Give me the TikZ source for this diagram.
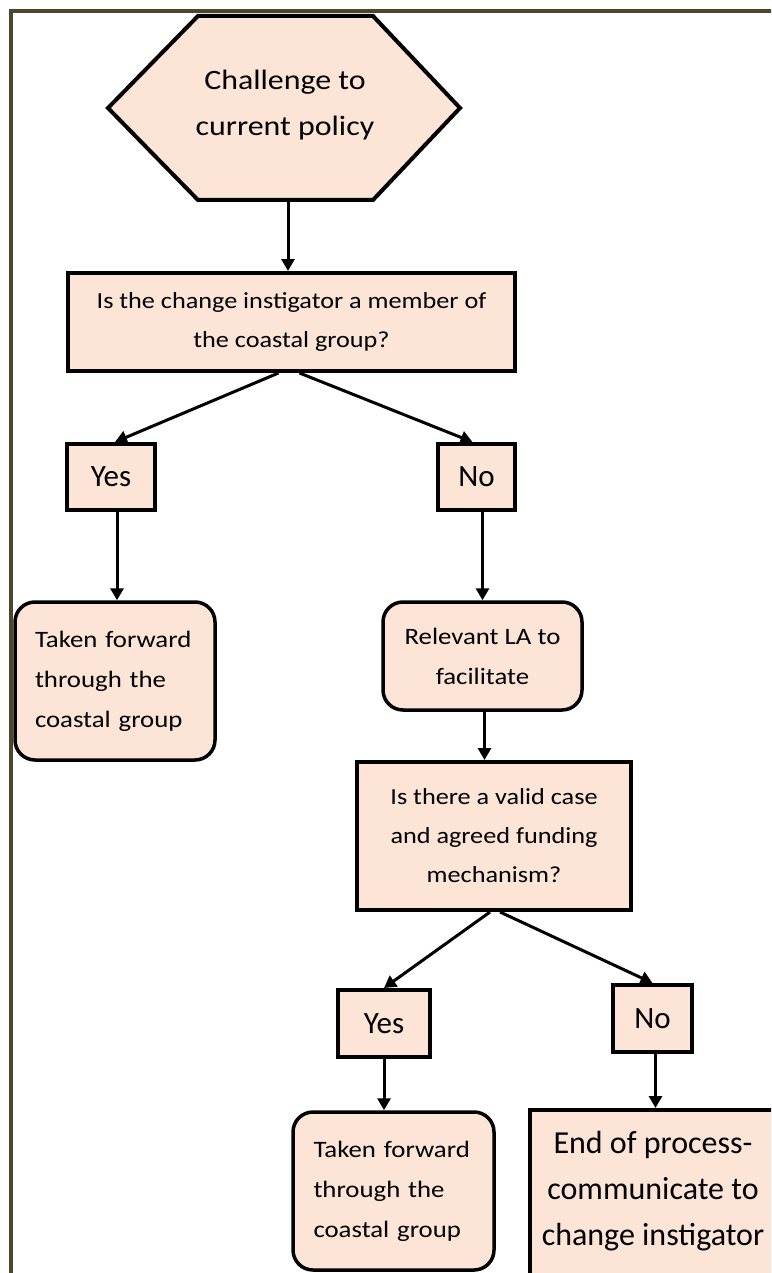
\documentclass[tikz,border=0pt]{standalone}
\usepackage{fontspec}
\setmainfont{Carlito}
\newfontfamily\widefont[FakeStretch=1.14]{Carlito}
\usetikzlibrary{arrows.meta}

\definecolor{peach}{HTML}{FCE4D6}
\definecolor{frameolive}{HTML}{4A4630}

\tikzset{
	box/.style={draw, line width=4pt, fill=peach, align=center, inner sep=0pt},
	question/.style={box, font=\widefont\fontsize{23}{39}\selectfont},
	answer/.style={box, font=\fontsize{31}{34}\selectfont},
	action/.style={box, rounded corners=20pt, line width=3.5pt, font=\widefont\fontsize{23.5}{40}\selectfont},
	flow/.style={line width=3pt, -{Triangle[length=12pt, width=13pt]}},
}

\begin{document}
\begin{tikzpicture}[x=1pt, y=-1pt]
	\clip (0,0) rectangle (771,1273);
	\fill[white] (0,0) rectangle (771,1273);
	% outer frame, cut at right and bottom
	\draw[frameolive, line width=4pt] (11,1280) -- (11,11) -- (780,11);

	% start: hexagon
	\draw[line width=4pt, fill=peach, line join=miter] (198,16) -- (373,16) -- (460,108) -- (373,200) -- (198,200) -- (108,108) -- cycle;
	\node[font=\widefont\fontsize{28}{46}\selectfont, align=center] (start) at (285,105) {Challenge to\\current policy};
	\coordinate (startbot) at (288,202);

	% first question
	\node[question, minimum width=447, minimum height=98] (q1) at (291.5,322) {Is the change instigator a member of\\the coastal group?};
	\node[answer, minimum width=88, minimum height=66] (yes1) at (111,477) {Yes};
	\node[answer, minimum width=77, minimum height=66] (no1) at (476.5,477) {No};
	\node[action, minimum width=200, minimum height=158, text width=160, align=left] (take1) at (115,681) {Taken forward\\through the\\coastal group};
	\node[action, minimum width=199, minimum height=108] (la) at (482.5,656) {Relevant LA to\\facilitate};

	% second question
	\node[question, minimum width=274, minimum height=148] (q2) at (494,836) {Is there a valid case\\and agreed funding\\mechanism?};
	\node[answer, minimum width=92, minimum height=67] (yes2) at (384,1023.5) {Yes};
	\node[answer, minimum width=79, minimum height=67] (no2) at (652.5,1018.5) {No};
	\node[action, minimum width=201, minimum height=158, text width=160, align=left] (take2) at (393.5,1191) {Taken forward\\through the\\coastal group};
	\node[box, minimum width=250, minimum height=190] (stop) at (655,1205) {};
	\node[font=\fontsize{32}{46}\selectfont, align=center] (stoptext) at (653,1191) {End of process-\\communicate to\\change instigator};

	% connectors
	\draw[flow] (startbot) -- (startbot |- q1.north);
	\draw[flow] ([xshift=-13pt]q1.south) -- ([xshift=4pt]yes1.north);
	\draw[flow] ([xshift=8pt]q1.south) -- ([xshift=-4pt]no1.north);
	\draw[flow] ([xshift=6pt]yes1.south) -- ([xshift=6pt]yes1.south |- take1.north);
	\draw[flow] ([xshift=6pt]no1.south) -- ([xshift=6pt]no1.south |- la.north);
	\draw[flow] ([xshift=2pt]la.south) -- ([xshift=2pt]la.south |- q2.north);
	\draw[flow] ([xshift=-4pt]q2.south) -- (yes2.north);
	\draw[flow] ([xshift=6pt]q2.south) -- (no2.north);
	\draw[flow] (yes2.south) -- (yes2.south |- take2.north);
	\draw[flow] ([xshift=3pt]no2.south) -- ([xshift=3pt]no2.south |- stop.north);
\end{tikzpicture}
\end{document}
